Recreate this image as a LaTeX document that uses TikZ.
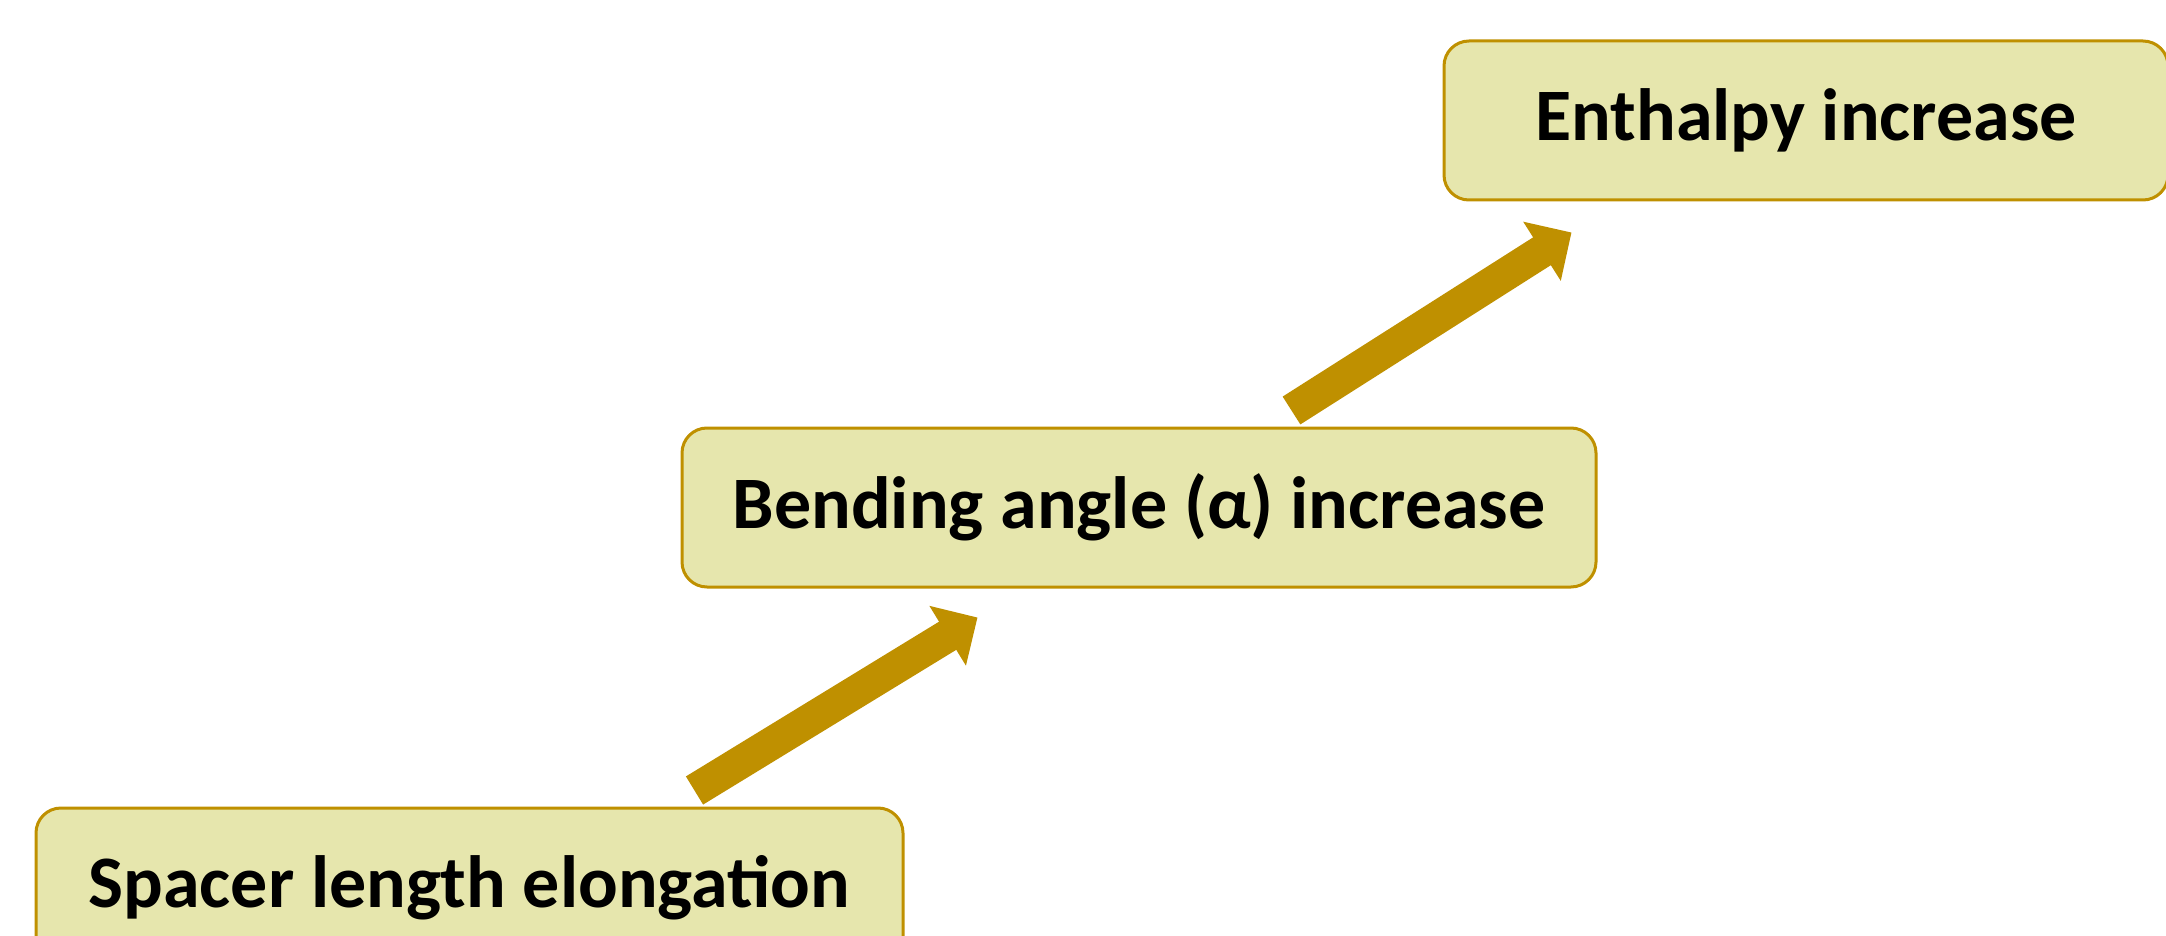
\documentclass[tikz,border=0pt]{standalone}
\usepackage{fontspec}
\setmainfont{Carlito}
\usetikzlibrary{arrows.meta,calc}
\definecolor{boxfill}{RGB}{230,230,173}
\definecolor{gold}{RGB}{191,144,0}
\tikzset{
  stagebox/.style={draw=gold, line width=3pt, fill=boxfill, rounded corners=25pt,
    inner sep=0pt, minimum height=159pt, font=\fontsize{74}{80}\selectfont\bfseries, text=black},
  bigarrow/.style={draw=gold, line width=33pt, -{Triangle[length=35pt,width=68pt]}}
}
\begin{document}
\begin{tikzpicture}[x=1pt,y=-1pt]
\useasboundingbox (0,0) rectangle (2166,936);
\node[stagebox, minimum width=724pt] (enth) at (1806,120.5) {Enthalpy increase};
\node[stagebox, minimum width=914pt] (bend) at (1139,507.5) {Bending angle (α) increase};
\node[stagebox, minimum width=867pt] (spac) at (469.5,887.5) {Spacer length elongation};
\coordinate (t1) at ($(spac.north west)+(660,-16)$);
\coordinate (h1) at ($(bend.south west)+(297,29)$);
\coordinate (t2) at ($(bend.north west)+(611,-16)$);
\coordinate (h2) at ($(enth.south west)+(129,31)$);
\draw[bigarrow] (t1) -- (h1);
\draw[bigarrow] (t2) -- (h2);
\end{tikzpicture}
\end{document}
